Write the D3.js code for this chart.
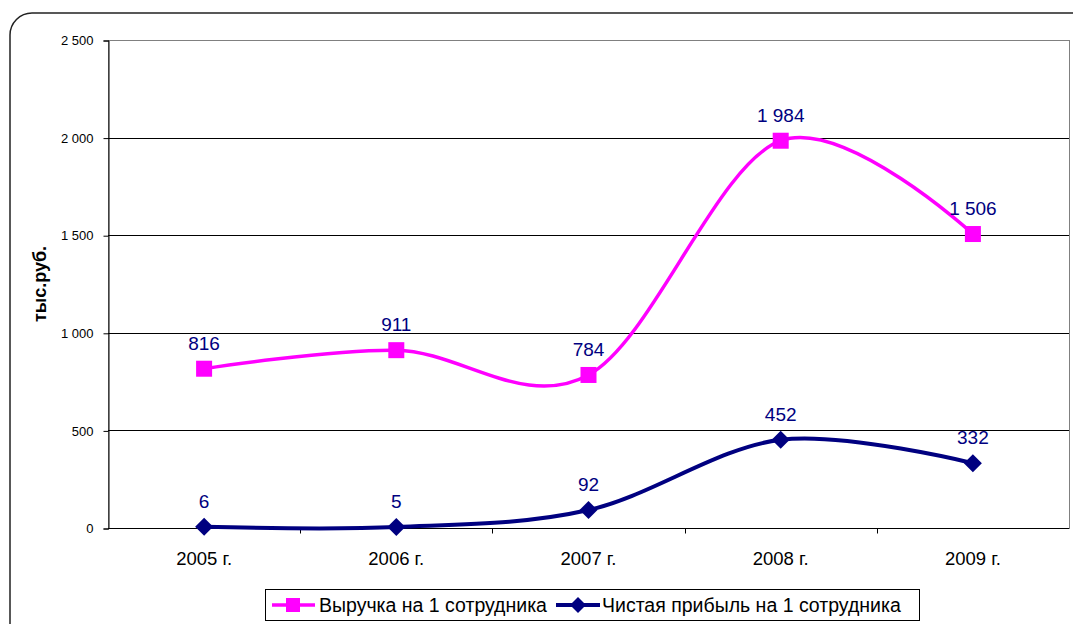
<!DOCTYPE html>
<html>
<head>
<meta charset="utf-8">
<script src="https://cdn.jsdelivr.net/npm/d3@7"></script>
<style>
  body { margin: 0; background: #fff; }
  text { font-family: Arial, "Liberation Sans", sans-serif; }
</style>
</head>
<body>
<div id="chart"></div>
<script>
// data
var years       =   [ '2005 г.', '2006 г.', '2007 г.', '2008 г.', '2009 г.' ];
var revenue     =   [ 816, 911, 784, 1984, 1506 ];
var profit      =   [ 6, 5, 92, 452, 332 ];
var y_ticks     =   [ 0, 500, 1000, 1500, 2000, 2500 ];
var series_names =  [ 'Выручка на 1 сотрудника', 'Чистая прибыль на 1 сотрудника' ];

var chart_width     =   1073;
var chart_height    =   624;
// plot area (note: "top" is taken by window.top)
var p_left = 108, p_right = 1069, p_top = 40, p_bottom = 528;

var svg = d3.select( '#chart' )
    .append( 'svg' )
    .attr( 'width', chart_width )
    .attr( 'height', chart_height );

// outer rounded frame
svg.append( 'rect' )
    .attr( 'x', 10 ).attr( 'y', 13 )
    .attr( 'width', 1120 ).attr( 'height', 700 )
    .attr( 'rx', 22 )
    .attr( 'fill', 'none' )
    .attr( 'stroke', '#222' )
    .attr( 'stroke-width', 1.5 );

var x = d3.scaleBand().domain( years ).range( [ p_left, p_right ] );
var y = d3.scaleLinear().domain( [ 0, 2500 ] ).range( [ p_bottom, p_top ] );
var fmt = function( v ){ return d3.format( ',' )( v ).replace( /,/g, ' ' ); };

// plot border (gray)
svg.append( 'rect' )
    .attr( 'x', p_left + 0.5 ).attr( 'y', p_top + 0.5 )
    .attr( 'width', p_right - p_left ).attr( 'height', p_bottom - p_top )
    .attr( 'fill', 'none' )
    .attr( 'stroke', '#808080' );

// gridlines
svg.selectAll( '.grid' )
    .data( y_ticks.slice( 1 ) )
    .enter()
    .append( 'line' )
    .attr( 'x1', p_left ).attr( 'x2', p_right )
    .attr( 'y1', function( d ){ return Math.round( y( d ) ) + 0.5; } )
    .attr( 'y2', function( d ){ return Math.round( y( d ) ) + 0.5; } )
    .attr( 'stroke', function( d ){ return d == 2500 ? '#808080' : '#000'; } );

// y axis
var yAxis = d3.axisLeft( y ).tickValues( y_ticks ).tickSize( 5 ).tickPadding( 10 ).tickFormat( fmt );
var gy = svg.append( 'g' ).attr( 'transform', 'translate(' + ( p_left + 0.5 ) + ',0.5)' ).call( yAxis );
gy.selectAll( 'text' ).attr( 'font-size', 13 ).attr( 'fill', '#000' ).attr( 'font-family', 'Arial, "Liberation Sans", sans-serif' );
gy.selectAll( 'line, path' ).attr( 'stroke', '#000' );

// x axis
var gx = svg.append( 'g' ).attr( 'transform', 'translate(0,' + ( p_bottom + 0.5 ) + ')' );
gx.append( 'line' ).attr( 'x1', p_left ).attr( 'x2', p_right ).attr( 'stroke', '#000' );
gx.selectAll( '.tk' )
    .data( years.slice( 1 ) )
    .enter()
    .append( 'line' )
    .attr( 'x1', function( d ){ return Math.round( x( d ) ) + 0.5; } )
    .attr( 'x2', function( d ){ return Math.round( x( d ) ) + 0.5; } )
    .attr( 'y1', 0 ).attr( 'y2', 5 )
    .attr( 'stroke', '#000' );
gx.selectAll( 'text' )
    .data( years )
    .enter()
    .append( 'text' )
    .text( function( d ){ return d; } )
    .attr( 'x', function( d ){ return x( d ) + x.bandwidth() / 2; } )
    .attr( 'y', 36 )
    .attr( 'text-anchor', 'middle' )
    .attr( 'font-size', 18.5 );

// y title
svg.append( 'text' )
    .text( 'тыс.руб.' )
    .attr( 'transform', 'translate(46,284) rotate(-90)' )
    .attr( 'text-anchor', 'middle' )
    .attr( 'font-size', 18 )
    .attr( 'font-weight', 'bold' );

// Excel-like smoothing = uniform Catmull-Rom
var cx = function( d, i ){ return x( years[ i ] ) + x.bandwidth() / 2; };
var line = d3.line()
    .x( cx )
    .y( function( d ){ return y( d ); } )
    .curve( d3.curveCatmullRom.alpha( 0 ) );

// revenue line
svg.append( 'path' )
    .attr( 'd', line( revenue ) )
    .attr( 'fill', 'none' )
    .attr( 'stroke', '#FF00FF' )
    .attr( 'stroke-width', 3.5 );
svg.selectAll( '.sq' )
    .data( revenue )
    .enter()
    .append( 'rect' )
    .attr( 'x', function( d, i ){ return cx( d, i ) - 8; } )
    .attr( 'y', function( d ){ return y( d ) - 8; } )
    .attr( 'width', 16 ).attr( 'height', 16 )
    .attr( 'fill', '#FF00FF' );

// profit line
svg.append( 'path' )
    .attr( 'd', line( profit ) )
    .attr( 'fill', 'none' )
    .attr( 'stroke', '#000080' )
    .attr( 'stroke-width', 4 );
svg.selectAll( '.dm' )
    .data( profit )
    .enter()
    .append( 'path' )
    .attr( 'd', 'M0,-9L9,0L0,9L-9,0Z' )
    .attr( 'transform', function( d, i ){ return 'translate(' + cx( d, i ) + ',' + y( d ) + ')'; } )
    .attr( 'fill', '#000080' );

// data labels
[ revenue, profit ].forEach( function( arr ){
    svg.append( 'g' ).selectAll( 'text' )
        .data( arr )
        .enter()
        .append( 'text' )
        .text( function( d ){ return fmt( d ); } )
        .attr( 'x', cx )
        .attr( 'y', function( d ){ return y( d ) - 19; } )
        .attr( 'text-anchor', 'middle' )
        .attr( 'font-size', 19 )
        .attr( 'fill', '#000080' );
});

// legend
var lg = svg.append( 'g' );
lg.append( 'rect' )
    .attr( 'x', 265.5 ).attr( 'y', 589.5 )
    .attr( 'width', 654 ).attr( 'height', 31 )
    .attr( 'fill', '#fff' )
    .attr( 'stroke', '#000' );
var ly = 605;
lg.append( 'line' ).attr( 'x1', 272 ).attr( 'x2', 315 ).attr( 'y1', ly ).attr( 'y2', ly )
    .attr( 'stroke', '#FF00FF' ).attr( 'stroke-width', 3.5 );
lg.append( 'rect' ).attr( 'x', 286 ).attr( 'y', ly - 7 ).attr( 'width', 14 ).attr( 'height', 14 ).attr( 'fill', '#FF00FF' );
lg.append( 'text' ).text( series_names[ 0 ] ).attr( 'x', 319 ).attr( 'y', ly + 7 ).attr( 'font-size', 19.5 );
lg.append( 'line' ).attr( 'x1', 556 ).attr( 'x2', 600 ).attr( 'y1', ly ).attr( 'y2', ly )
    .attr( 'stroke', '#000080' ).attr( 'stroke-width', 4 );
lg.append( 'path' ).attr( 'd', 'M0,-8L8,0L0,8L-8,0Z' )
    .attr( 'transform', 'translate(578,' + ly + ')' ).attr( 'fill', '#000080' );
lg.append( 'text' ).text( series_names[ 1 ] ).attr( 'x', 602 ).attr( 'y', ly + 7 ).attr( 'font-size', 19.5 );
</script>
</body>
</html>
